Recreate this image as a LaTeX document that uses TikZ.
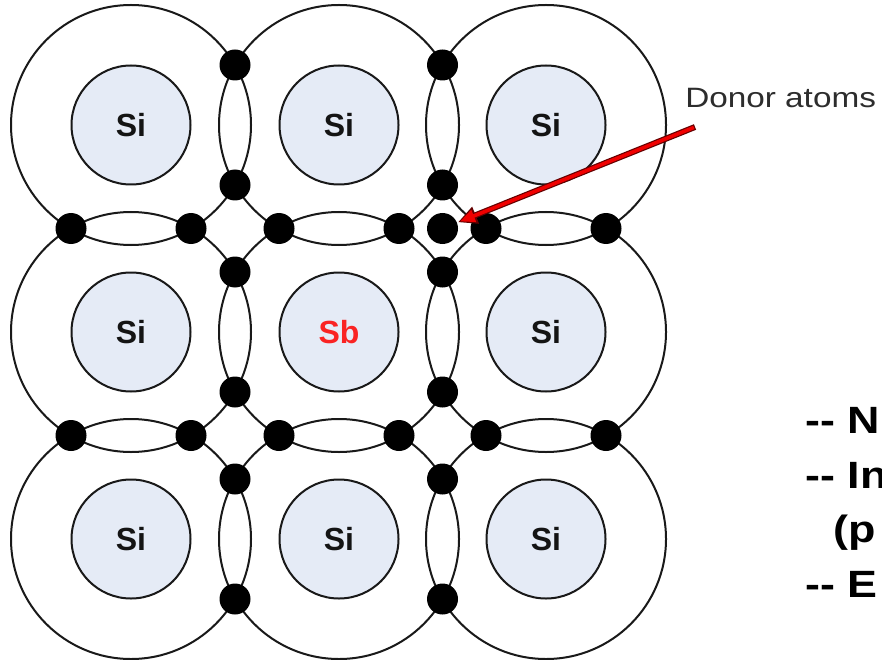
\documentclass[tikz,border=0pt]{standalone}
\usepackage{fontspec}
\setmainfont{Liberation Sans}
\usetikzlibrary{arrows.meta,calc}

\definecolor{corefill}{RGB}{229,235,246}
\definecolor{inkline}{RGB}{25,25,25}
\definecolor{sitext}{RGB}{20,20,20}
\definecolor{sbred}{RGB}{250,35,35}
\definecolor{arrowred}{RGB}{240,0,0}
\definecolor{arrowrim}{RGB}{100,0,0}
\definecolor{labelgray}{RGB}{45,45,45}

\tikzset{
  shell/.style={circle, draw=inkline, line width=2pt, minimum size=240pt, inner sep=0pt},
  core/.style={circle, draw=inkline, line width=2pt, fill=corefill, minimum size=119pt,
               inner sep=0pt, font=\fontsize{32}{32}\selectfont\bfseries},
  electron/.style={circle, fill=black, minimum size=31pt, inner sep=0pt},
  notetext/.style={anchor=base west, inner sep=0pt, xscale=1.18,
                   font=\fontsize{38}{38}\selectfont\bfseries},
}

\begin{document}
\begin{tikzpicture}[x=1pt,y=-1pt]
  \useasboundingbox (0,0) rectangle (882,660);
  \clip (0,0) rectangle (882,660);
  \fill[white] (0,0) rectangle (882,660);

  % lattice: outer shells and atom cores (the antimony atom sits in the middle)
  \foreach \r/\c/\x/\y/\lab/\col in {
      0/0/131/125/Si/sitext, 0/1/339/125/Si/sitext, 0/2/546/125/Si/sitext,
      1/0/131/332/Si/sitext, 1/1/339/332/Sb/sbred,  1/2/546/332/Si/sitext,
      2/0/131/539/Si/sitext, 2/1/339/539/Si/sitext, 2/2/546/539/Si/sitext} {
    \node[shell] (s-\r-\c) at (\x,\y) {};
    \node[core, text=\col] (a-\r-\c) at (\x,\y) {\lab};
  }

  % bonding electrons where neighbouring shells cross
  \foreach \r in {0,1,2}
    \foreach \c in {0,1} {
      \pgfmathtruncatemacro\nextcol{\c+1}
      \node[electron] (eh-\r-\c-u) at ($(a-\r-\c)!0.5!(a-\r-\nextcol)+(0,-60)$) {};
      \node[electron] (eh-\r-\c-d) at ($(a-\r-\c)!0.5!(a-\r-\nextcol)+(0,60)$) {};
    }
  \foreach \r in {0,1}
    \foreach \c in {0,1,2} {
      \pgfmathtruncatemacro\nextrow{\r+1}
      \node[electron] (ev-\r-\c-l) at ($(a-\r-\c)!0.5!(a-\nextrow-\c)+(-60,0)$) {};
      \node[electron] (ev-\r-\c-r) at ($(a-\r-\c)!0.5!(a-\nextrow-\c)+(60,0)$) {};
    }
  % the extra electron brought in by the donor
  \node[electron] (donor) at ($(a-0-1)!0.5!(a-1-2)$) {};

  % label and pointer
  \node[anchor=base west, inner sep=0pt, text=labelgray,
        font=\fontsize{28}{28}\selectfont, xscale=1.19] (donorlabel) at (685,108) {Donor atoms};
  \coordinate (tail) at (695,127);
  \draw[line width=6pt, arrowrim, shorten >=1pt,
        -{Triangle[length=19pt,width=17pt]}] (tail) -- (donor);
  \draw[line width=3.6pt, arrowred, shorten >=3pt, shorten <=1.2pt,
        -{Triangle[length=15pt,width=12pt]}] (tail) -- (donor);

  % notes at the right edge
  \node[notetext] (n1) at (805,433) {-{}- N};
  \node[notetext] (n2) at (805,488) {-{}- In};
  \node[notetext] (n3) at (833,542) {(p};
  \node[notetext] (n4) at (805,597) {-{}- E};
\end{tikzpicture}
\end{document}
